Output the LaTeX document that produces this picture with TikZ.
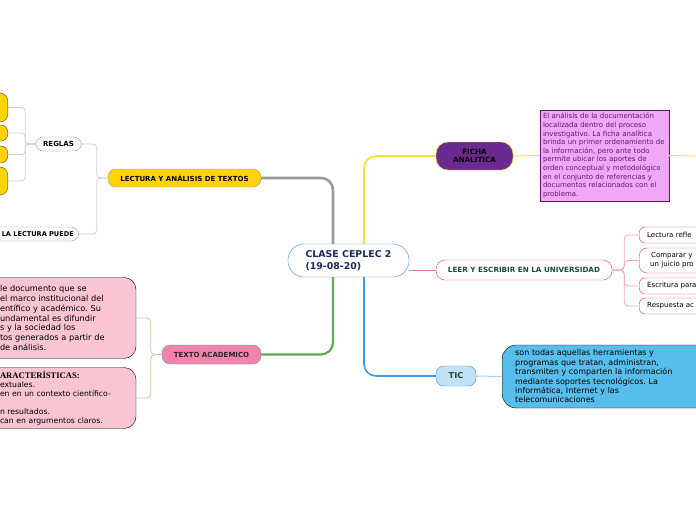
\documentclass[tikz,border=0pt]{standalone}
\usepackage{fontspec}
\setmainfont{DejaVu Sans}
\newfontfamily\titlefont{Liberation Serif}
\usepackage{tikz}
\usetikzlibrary{positioning,calc}
\frenchspacing
\definecolor{lyellow}{HTML}{FFD400}
\definecolor{branchgray}{HTML}{9A9A9A}
\definecolor{linegray}{HTML}{CFCFCF}
\definecolor{branchgreen}{HTML}{5DAE4B}
\definecolor{linegreen}{HTML}{A9D99F}
\definecolor{pinknode}{HTML}{F283AE}
\definecolor{pinkbox}{HTML}{F9C5D3}
\definecolor{purplenode}{HTML}{6B2A8F}
\definecolor{violetbox}{HTML}{EFA8F6}
\definecolor{violetline}{HTML}{5E1A70}
\definecolor{crimson}{HTML}{D93B72}
\definecolor{linepink}{HTML}{F2A5C0}
\definecolor{branchblue}{HTML}{3A9BE0}
\definecolor{lineblue}{HTML}{9CCFF0}
\definecolor{ticfill}{HTML}{C2E1F4}
\definecolor{bluebox}{HTML}{57BDEB}
\definecolor{centreline}{HTML}{3D88C8}
\definecolor{navytext}{HTML}{1B2A5C}
\definecolor{greentext}{HTML}{1E4D2B}
\tikzset{
  pill/.style  = {draw, rounded corners=8pt, align=center, inner sep=2pt,
                  font=\fontsize{7}{8.4}\selectfont\bfseries},
  leaf/.style  = {draw=crimson, fill=white, rounded corners=6pt, anchor=west,
                  text width=70pt, align=left, inner xsep=8pt, inner ysep=1pt,
                  font=\fontsize{7}{8.8}\selectfont},
  blob/.style  = {draw=black!70, fill=lyellow, rounded corners=8pt, anchor=east,
                  minimum width=40pt},
  note/.style  = {draw, rounded corners=12pt, align=left, inner xsep=20pt,
                  text width=116pt},
  link/.style  = {rounded corners=4pt, line width=0.8pt},
}
\begin{document}
\begin{tikzpicture}[x=1pt, y=-1pt]
  \useasboundingbox (0,0) rectangle (696,520);
  % centre
  \node[draw=centreline, fill=white, rounded corners=16pt, minimum width=121pt,
        minimum height=33pt, align=left, text=navytext,
        font=\fontsize{9.4}{12}\selectfont\bfseries] (centre) at (348.5,260.5)
       {CLASE CEPLEC 2\\(19-08-20)};
  % left side
  \node[pill, fill=lyellow, draw=branchgray, minimum width=153pt, minimum height=18pt]
       (lectura) at (184.5,178) {LECTURA Y ANÁLISIS DE TEXTOS};
  \node[pill, fill=white, draw=branchgray, minimum width=46pt, minimum height=14pt]
       (reglas) at (58.5,144) {REGLAS};
  \node[pill, fill=white, draw=branchgray, anchor=east, minimum height=14pt,
        text width=90pt, align=right, inner xsep=5pt,
        font=\fontsize{6.6}{8}\selectfont\bfseries] (puede) at (79,234) {LA LECTURA PUEDE};
  \node[blob, minimum height=29pt] (r1) at (8,107.5) {};
  \node[blob, minimum height=16pt, rounded corners=7pt] (r2) at (8,133) {};
  \node[blob, minimum height=17pt, rounded corners=7pt] (r3) at (8,154.5) {};
  \node[blob, minimum height=28pt] (r4) at (8,181) {};
  \node[pill, fill=pinknode, draw=branchgreen, minimum width=99pt, minimum height=19pt,
        text=black!85] (texto) at (211.5,354.5) {TEXTO ACADEMICO};
  \node[note, fill=pinkbox, minimum height=81pt,
        font=\fontsize{8.2}{9.8}\selectfont] (tipo) at (58,318)
       {le documento que se\\ el marco institucional del\\entífico y académico. Su\\
        undamental es difundir\\ s y la sociedad los\\tos generados a partir de\\ de análisis.};
  \node[note, fill=pinkbox, minimum height=61pt,
        font=\fontsize{7.7}{9}\selectfont] (rasgos) at (58,398)
       {{\titlefont\bfseries\fontsize{8.6}{9}\selectfont ARACTERÍSTICAS:}\\extuales.\\
        en en un contexto científico-\\[9pt]n resultados.\\can en argumentos claros.};
  % right side
  \node[pill, fill=purplenode, draw=lyellow, minimum width=77pt, minimum height=28pt,
        rounded corners=12pt, font=\fontsize{7.2}{8.4}\selectfont\bfseries]
       (ficha) at (474.5,156) {FICHA\\ANALITICA};
  \node[draw=violetline, fill=violetbox, text=violetline, minimum width=129pt,
        minimum height=91pt, text width=123pt, align=left, inner sep=3pt,
        font=\fontsize{7}{8.6}\selectfont] (analisis) at (604.5,155.5)
       {El análisis de la documentación\\localizada dentro del proceso\\
        investigativo. La ficha analítica\\brinda un primer ordenamiento de\\
        la información, pero ante todo\\permite ubicar los aportes de\\
        orden conceptual y metodológico\\en el conjunto de referencias y\\
        documentos relacionados con el\\problema.};
  \coordinate (fichaout) at (700,156);
  \node[pill, fill=white, draw=crimson, text=greentext, minimum width=176pt,
        minimum height=20pt, rounded corners=9pt,
        font=\fontsize{7.2}{8.4}\selectfont\bfseries] (leer) at (524,270)
       {LEER Y ESCRIBIR EN LA UNIVERSIDAD};
  \node[leaf, minimum height=16pt] (reflex) at (639,235) {Lectura refle};
  \node[leaf, minimum height=25pt, rounded corners=8pt] (compara) at (639,260.5)
       {\hspace*{4pt}Comparar y\\\hspace*{3pt}un juicio pro};
  \node[leaf, minimum height=16pt] (escribe) at (639,286) {Escritura para};
  \node[leaf, minimum height=16pt] (responde) at (639,306) {Respuesta ac};
  \node[pill, fill=ticfill, draw=centreline, text=greentext, minimum width=40pt,
        minimum height=20pt, font=\fontsize{8.2}{9}\selectfont\bfseries] (tic) at (456,376) {TIC};
  \node[draw, fill=bluebox, rounded corners=14pt, anchor=west, minimum height=63pt,
        text width=190pt, align=left, inner xsep=13pt, inner ysep=3pt,
        font=\fontsize{8}{9.4}\selectfont] (ticdef) at (502,376.5)
       {son todas aquellas herramientas y\\programas que tratan, administran,\\
        transmiten y comparten la información\\mediante soportes tecnológicos. La\\
        informática, Internet y las\\telecomunicaciones};
  % main branches
  \draw[branchgray, line width=2.6pt, rounded corners=12pt]
       ([xshift=-15.5pt]centre.north) |- (lectura.east);
  \draw[branchgreen, line width=2.2pt, rounded corners=12pt]
       ([xshift=-15.5pt]centre.south) |- (texto.east);
  \draw[lyellow!80, line width=1.6pt, rounded corners=12pt]
       ([xshift=15.5pt]centre.north) |- (ficha.west);
  \draw[branchblue, line width=1.6pt, rounded corners=12pt]
       ([xshift=15.5pt]centre.south) |- (tic.west);
  \draw[crimson!70, line width=1pt] (centre.east |- leer.west) -- (leer.west);
  % sub branches
  \foreach \kid in {reglas,puede}
    \draw[link, linegray] (lectura.west) -- ++(-11,0) |- (\kid.east);
  \foreach \kid in {r1,r2,r3,r4}
    \draw[link, linegray] (reglas.west) -- ++(-10,0) |- (\kid.east);
  \foreach \kid in {tipo,rasgos}
    \draw[link, linegreen] (texto.west) -- ++(-11,0) |- (\kid.east);
  \foreach \kid in {reflex,compara,escribe,responde}
    \draw[link, linepink] (leer.east) -- ++(12,0) |- (\kid.west);
  \draw[lyellow!70, line width=1pt] (ficha.east) -- (analisis.west);
  \draw[lyellow!70, line width=1pt] (analisis.east) -- (fichaout);
  \draw[lineblue, line width=1pt] (tic.east) -- (ticdef.west);
\end{tikzpicture}
\end{document}
